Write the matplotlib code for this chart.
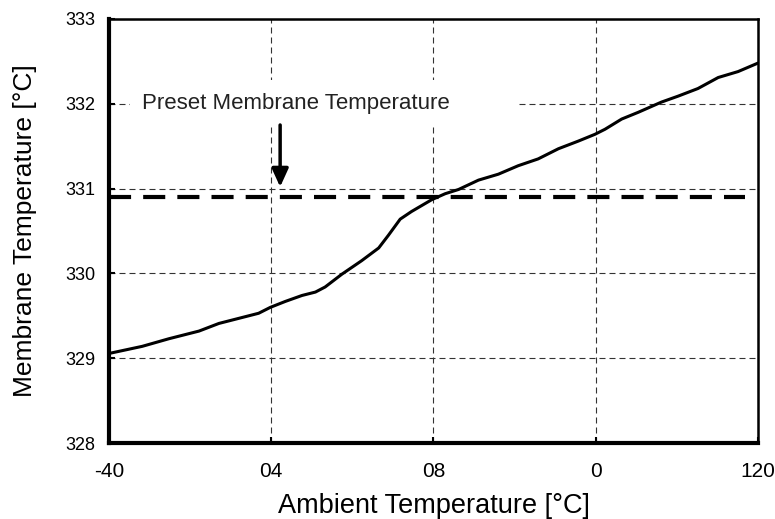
import numpy as np
import matplotlib.pyplot as plt
from matplotlib.patches import Rectangle

# data
ambient = [-40, -39.6, -31.8, -25.2, -17.8, -12.9, -8.0, -3.1, -0.2, 3.5, 7.6, 10.9,
           13.3, 17.4, 22.3, 26.5, 28.9, 31.8, 34.6, 39.6, 42.9, 46.2, 51.1, 56.0,
           60.9, 65.8, 70.8, 75.7, 79.8, 82.3, 86.4, 90.5, 96.2, 100.3, 105.2, 110.2,
           115.1, 120]
membrane = [329.06, 329.06, 329.14, 329.23, 329.32, 329.41, 329.47, 329.53, 329.60,
            329.67, 329.74, 329.78, 329.84, 329.99, 330.15, 330.30, 330.45, 330.64,
            330.73, 330.87, 330.94, 330.99, 331.10, 331.17, 331.27, 331.35, 331.47,
            331.56, 331.64, 331.70, 331.82, 331.90, 332.02, 332.09, 332.18, 332.31,
            332.38, 332.48]
preset = 330.9
preset_end = 116.8

xticks = [-40, 0, 40, 80, 120]
xtick_labels = ['-40', '04', '08', '0', '120']
yticks = [328, 329, 330, 331, 332, 333]

plt.rcParams['font.family'] = ['Liberation Sans', 'DejaVu Sans']

fig = plt.figure(figsize=(7.75, 5.19), dpi=100)
ax = fig.add_axes([0.1406, 0.1464, 0.8374, 0.817])

ax.plot(ambient, membrane, color='black', lw=2.2, zorder=3,
        solid_joinstyle='round', solid_capstyle='round')
ax.plot([-40, preset_end], [preset, preset], color='black', lw=3,
        linestyle=(0, (5.3, 2.9)), zorder=3)

ax.set_xlim(-40, 120)
ax.set_ylim(328, 333)
ax.set_xticks(xticks)
ax.set_xticklabels(xtick_labels, family=['Liberation Sans Narrow', 'Liberation Sans'],
                   fontsize=15)
ax.set_yticks(yticks)
ax.tick_params(axis='y', labelsize=13, pad=10)
ax.tick_params(axis='x', pad=14)
ax.tick_params(direction='in', length=4, width=1.5, color='black')

ax.set_axisbelow(True)
ax.grid(True, color='#333333', lw=0.8, linestyle=(0, (5.4, 3.6)))

for side in ['left', 'bottom']:
    ax.spines[side].set_linewidth(3)
for side in ['top', 'right']:
    ax.spines[side].set_linewidth(1.8)

# white box hiding the grid behind the note
ax.add_patch(Rectangle((-34.8, 331.75), 95.6, 0.53, facecolor='white',
                       edgecolor='none', zorder=1))
ax.text(6, 332.0, 'Preset Membrane Temperature', fontsize=16, color='#222222',
        ha='center', va='center', zorder=4)
ax.annotate('', xy=(2.2, 331.02), xytext=(2.2, 331.75),
            arrowprops=dict(arrowstyle='-|>,head_length=1.1,head_width=0.5',
                            color='black', lw=2.5, shrinkA=0, shrinkB=0), zorder=4)

ax.set_xlabel('Ambient Temperature [°C]', fontsize=19.5, labelpad=8)
ax.set_ylabel('Membrane Temperature [°C]', fontsize=19, labelpad=20)

fig.savefig('out.png', dpi=100)
